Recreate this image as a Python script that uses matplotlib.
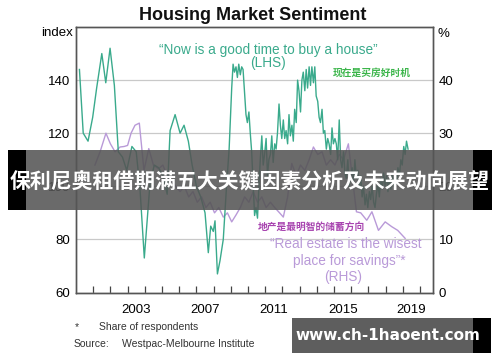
import matplotlib
matplotlib.use("Agg")
import matplotlib.pyplot as plt
from matplotlib.patches import Rectangle

plt.rcParams['font.family'] = ['Liberation Sans', 'Noto Sans CJK SC', 'DejaVu Sans']

# "Now is a good time to buy a house" index (LHS)
green_years = [2000.2, 2000.42, 2000.7, 2000.97, 2001.2, 2001.5, 2001.73, 2001.98,
               2002.23, 2002.46, 2002.7, 2002.95, 2003.25, 2003.5, 2003.72, 2003.97,
               2004.3, 2004.55, 2004.8, 2005.05, 2005.3, 2005.47, 2005.76, 2006.05,
               2006.28, 2006.53, 2006.75, 2007.0, 2007.25, 2007.5, 2007.69, 2007.83,
               2007.98, 2008.08, 2008.22, 2008.37, 2008.56, 2008.75, 2008.9,
               2009.05, 2009.13, 2009.21, 2009.3, 2009.38, 2009.46, 2009.55, 2009.63,
               2009.71, 2009.8, 2009.88, 2009.96, 2010.05, 2010.13, 2010.21, 2010.3,
               2010.38, 2010.46, 2010.55, 2010.63, 2010.71, 2010.8, 2010.88, 2010.96,
               2011.05, 2011.13, 2011.21, 2011.3, 2011.38, 2011.46, 2011.55, 2011.63,
               2011.71, 2011.8, 2011.88, 2011.96, 2012.05, 2012.13, 2012.21, 2012.3,
               2012.38, 2012.46, 2012.55, 2012.63, 2012.71, 2012.8, 2012.88, 2012.96,
               2013.05, 2013.13, 2013.21, 2013.3, 2013.38, 2013.46, 2013.55, 2013.63,
               2013.71, 2013.8, 2013.88, 2013.96, 2014.05, 2014.13, 2014.21, 2014.3,
               2014.38, 2014.46, 2014.55, 2014.63, 2014.71, 2014.8, 2014.88, 2014.96,
               2015.05, 2015.13, 2015.21, 2015.3, 2015.38, 2015.46, 2015.55, 2015.63,
               2015.71, 2015.8, 2015.88, 2015.96, 2016.05, 2016.13, 2016.21, 2016.3,
               2016.38, 2016.46, 2016.55, 2016.63, 2016.71, 2016.8, 2016.88, 2016.96,
               2017.05, 2017.13, 2017.21, 2017.3, 2017.38, 2017.46, 2017.55, 2017.63,
               2017.71, 2017.8, 2017.88, 2017.96, 2018.05, 2018.13, 2018.21, 2018.3,
               2018.38, 2018.46, 2018.55, 2018.63, 2018.71, 2018.8, 2018.88, 2018.96,
               2019.05, 2019.13, 2019.21, 2019.3]
green_vals = [144, 120, 117, 126, 137, 150, 139, 152,
              138, 113, 111, 106, 115, 113, 99, 73,
              101, 108, 107, 104, 97, 121, 127, 120,
              123, 117, 108, 100, 96, 90, 75, 85,
              83, 87, 67, 72, 80, 100, 114,
              137, 146, 143, 145, 141, 146, 142, 145,
              144, 135, 127, 124, 128, 120, 113, 100,
              89, 92, 88, 100, 110, 119, 108, 112,
              118, 104, 110, 112, 119, 109, 116, 114,
              120, 131, 123, 118, 125, 118, 121, 116,
              127, 119, 123, 117, 129, 124, 140, 136,
              128, 140, 143, 136, 144, 137, 145, 138,
              145, 139, 145, 134, 132, 126, 124, 129,
              120, 121, 114, 118, 116, 112, 122, 116,
              118, 116, 110, 125, 110, 107, 113, 105,
              103, 110, 100, 104, 107, 101, 110, 103,
              106, 99, 104, 96, 100, 93, 97, 92,
              98, 95, 100, 94, 92, 97, 101, 96,
              103, 99, 105, 100, 104, 98, 103, 99,
              105, 100, 106, 101, 107, 104, 110, 108,
              115, 112, 117, 114]

# "Real estate is the wisest place for savings" share, % (RHS)
purple_years = [2001.1, 2001.4, 2001.74, 2002.0, 2002.27, 2002.56, 2002.8, 2003.0,
                2003.2, 2003.43, 2003.68, 2003.95, 2004.23, 2004.5, 2004.8, 2005.05,
                2005.3, 2005.55, 2005.8, 2006.05, 2006.3, 2006.55, 2006.8, 2007.05,
                2007.3, 2007.55, 2007.8, 2008.05, 2008.3, 2008.56, 2008.8, 2009.05,
                2009.3, 2009.55, 2009.8, 2010.05, 2010.3, 2010.55, 2010.8, 2011.05,
                2011.3, 2011.55, 2011.86, 2012.05, 2012.3, 2012.54, 2012.8, 2013.05,
                2013.3, 2013.55, 2013.8, 2014.05, 2014.3, 2014.55, 2014.8, 2015.05,
                2015.3, 2015.55, 2015.83, 2016.05, 2016.3, 2016.55, 2016.9, 2017.2,
                2017.58, 2017.97, 2018.35, 2018.7, 2019.13]
purple_vals = [24, 26.5, 30, 28, 26.5, 27.4, 27.5, 27.7,
               30, 31.5, 31.9, 23, 27.1, 24, 23.3, 24,
               22, 21, 20, 19, 20, 18, 19, 17,
               18, 16, 17, 15, 16, 14.2, 15, 13.3,
               14.6, 16, 18, 17, 19, 17, 18, 16,
               17, 16, 14.9, 14.2, 18, 24.3, 22, 24,
               23, 25, 27.4, 26, 26.5, 24, 25, 24,
               26, 25, 28, 22, 15.2, 15, 13.6, 15.2,
               11.7, 13.3, 12.4, 11.7, 10.2]

year_labels = [2003, 2007, 2011, 2015, 2019]
left_ticks = [60, 80, 100, 120, 140]
right_ticks = [0, 10, 20, 30, 40]

W, H = 500, 362
def px(x, y):
    return x / W, 1 - y / H

green = '#3aaa8c'
purple = '#b99ad8'

fig = plt.figure(figsize=(5.0, 3.62), dpi=100)
ax2 = fig.add_axes([76 / W, 1 - 292.5 / H, (433 - 76) / W, (292.5 - 27) / H])
ax = ax2.twinx()
ax.set_zorder(ax2.get_zorder() + 1)
ax.patch.set_visible(False)

ax2.plot(purple_years, purple_vals, color=purple, lw=1.0)
ax.plot(green_years, green_vals, color=green, lw=1.0)

ax2.set_ylim(0, 50)
ax.set_ylim(60, 160)
ax2.set_xlim(2000, 2020.75)

ax2.set_yticks(right_ticks)
ax2.grid(axis='y', color='#c9c9c9', lw=0.9)
ax2.yaxis.tick_right()
ax.yaxis.tick_left()
ax.set_yticks(left_ticks)
ax2.tick_params(axis='y', length=0, labelsize=9.5, pad=4, right=True, labelright=True, left=False, labelleft=False)
ax.tick_params(axis='y', length=0, labelsize=9.5, pad=4, left=True, labelleft=True, right=False, labelright=False)

ax2.set_xticks(range(2001, 2021), minor=True)
ax2.set_xticks([y + 0.5 for y in year_labels])
ax2.set_xticklabels([str(y) for y in year_labels])
ax2.tick_params(axis='x', which='major', length=0, labelsize=9.5, pad=8)
ax2.tick_params(axis='x', which='minor', direction='in', length=5, width=0.9, color='#444444')

for a in (ax, ax2):
    for s in a.spines.values():
        s.set_color('#555555')
        s.set_linewidth(1.0)

fig.text(*px(253, 15), 'Housing Market Sentiment', ha='center', va='center',
         fontsize=13, fontweight='bold', color='#111111')
fig.text(*px(73, 33), 'index', ha='right', va='center', fontsize=9.5)
fig.text(*px(437, 34), '%', ha='left', va='center', fontsize=9.5)

fig.text(*px(268, 50), '\u201cNow is a good time to buy a house\u201d', ha='center', va='center',
         fontsize=9.8, color=green)
fig.text(*px(268, 63), '(LHS)', ha='center', va='center', fontsize=9.8, color=green)
fig.text(*px(372, 73), '现在是买房好时机', ha='center', va='center', fontsize=7,
         fontweight='bold', color='#3bb54a')

fig.text(*px(311, 227), '地产是最明智的储蓄方向', ha='center', va='center', fontsize=7,
         fontweight='bold', color='#a845b0')
fig.text(*px(346, 244), '\u201cReal estate is the wisest', ha='center', va='center',
         fontsize=9.8, color=purple)
fig.text(*px(349, 261), 'place for savings\u201d*', ha='center', va='center',
         fontsize=9.8, color=purple)
fig.text(*px(343, 277), '(RHS)', ha='center', va='center', fontsize=9.8, color=purple)

fig.text(*px(75, 327), '*', ha='left', va='center', fontsize=7.5, color='#333333')
fig.text(*px(99, 327), 'Share of respondents', ha='left', va='center', fontsize=7.5, color='#333333')
fig.text(*px(74, 344), 'Source:', ha='left', va='center', fontsize=7.5, color='#333333')
fig.text(*px(122, 344), 'Westpac-Melbourne Institute', ha='left', va='center', fontsize=7.5, color='#333333')

# overlay banner
fig.patches.append(Rectangle(px(8, 210), 18 / W, 60 / H, transform=fig.transFigure,
                             facecolor='black', zorder=5))
fig.patches.append(Rectangle(px(473, 210), 19 / W, 60 / H, transform=fig.transFigure,
                             facecolor='black', zorder=5))
fig.patches.append(Rectangle(px(26, 210), 447 / W, 60 / H, transform=fig.transFigure,
                             facecolor='#555555', alpha=0.88, zorder=5))
fig.text(*px(250, 181), '保利尼奥租借期满五大关键因素分析及未来动向展望', ha='center', va='center',
         fontsize=15, fontweight='bold', color='white', zorder=6,
         family=['Noto Sans CJK SC', 'DejaVu Sans'])

# watermark box
fig.patches.append(Rectangle(px(292, 353), 181 / W, 35 / H, transform=fig.transFigure,
                             facecolor='#5e5e5e', zorder=5))
fig.patches.append(Rectangle(px(473, 353), 18 / W, 35 / H, transform=fig.transFigure,
                             facecolor='black', zorder=5))
fig.text(*px(388, 336), 'www.ch-1haoent.com', ha='center', va='center', fontsize=11,
         fontweight='bold', color='white', zorder=6, family=['DejaVu Sans'])

fig.savefig('out.png', dpi=100)
